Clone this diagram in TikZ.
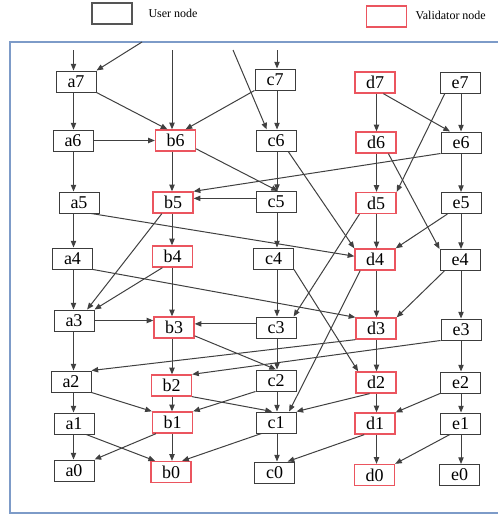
\documentclass[tikz,border=0pt]{standalone}
\usepackage{fontspec}
\setmainfont{Liberation Serif}
\usetikzlibrary{arrows.meta}

\definecolor{framblue}{RGB}{125,155,200}
\definecolor{boxgray}{RGB}{60,60,60}
\definecolor{keygray}{RGB}{85,85,85}
\definecolor{valred}{RGB}{235,85,95}
\definecolor{linegray}{RGB}{64,64,64}

\tikzset{every picture/.style={line width=0.75pt}}
\tikzset{
  usernode/.style={draw=boxgray, fill=white, minimum width=30pt, minimum height=15.75pt, inner sep=0pt, font=\fontsize{13.5}{16}\selectfont},
  valnode/.style={usernode, draw=valred, line width=1pt},
  keytext/.style={anchor=west, inner sep=0.75pt, font=\fontsize{9}{11}\selectfont},
  depline/.style={draw=linegray, -{Triangle[length=5pt,width=4pt]}}
}

\begin{document}
\begin{tikzpicture}[x=0.75pt,y=0.75pt,yscale=-1,xscale=1]
\useasboundingbox (0,0) rectangle (498,514);

%Shape: Frame
\draw [color=framblue, line width=1pt] (510,42) -- (10,42) -- (10,513) -- (510,513) ;

% Legend
\node [usernode, draw=keygray, line width=1pt] (userkey) at (112,13.5) {};
\node [keytext] (usertext) at (147,13) {User node};
\node [valnode] (valkey) at (386.5,16.5) {};
\node [keytext] (valtext) at (414,15) {Validator node};

% Column lines and entry points
\coordinate (colA) at (73.5,0);
\coordinate (colB) at (172,0);
\coordinate (colC) at (277,0);
\coordinate (colD) at (376.5,0);
\coordinate (colE) at (461,0);
\coordinate (ina7) at (73.5,50);
\coordinate (ina7d) at (142,42);
\coordinate (inb6) at (172,50);
\coordinate (inc6) at (233,50);
\coordinate (inc7) at (277,50);

% Text Node: column a
\node [usernode] (a7) at (76,81.5) {a7};
\node [usernode] (a6) at (73,140.5) {a6};
\node [usernode] (a5) at (79,202.5) {a5};
\node [usernode] (a4) at (72.5,258.5) {a4};
\node [usernode] (a3) at (74,320.5) {a3};
\node [usernode] (a2) at (71,381.5) {a2};
\node [usernode] (a1) at (74,423.5) {a1};
\node [usernode] (a0) at (74,470.5) {a0};
% Text Node: column b
\node [valnode] (b6) at (175.5,140.5) {b6};
\node [valnode] (b5) at (173,202.5) {b5};
\node [valnode] (b4) at (172.5,256.5) {b4};
\node [valnode] (b3) at (174,327.5) {b3};
\node [valnode] (b2) at (171.5,385.5) {b2};
\node [valnode] (b1) at (172.5,422.5) {b1};
\node [valnode] (b0) at (171,472) {b0};
% Text Node: column c
\node [usernode] (c7) at (275,79.5) {c7};
\node [usernode] (c6) at (276,140.5) {c6};
\node [usernode] (c5) at (276,202) {c5};
\node [usernode] (c4) at (273.5,258.5) {c4};
\node [usernode] (c3) at (276,327.5) {c3};
\node [usernode] (c2) at (276,380.5) {c2};
\node [usernode] (c1) at (276,422.5) {c1};
\node [usernode] (c0) at (274.5,472.5) {c0};
% Text Node: column d
\node [valnode] (d7) at (375,82.5) {d7};
\node [valnode] (d6) at (376,142.5) {d6};
\node [valnode] (d5) at (376,203) {d5};
\node [valnode] (d4) at (375,259.5) {d4};
\node [valnode] (d3) at (376,328.5) {d3};
\node [valnode] (d2) at (376,382.5) {d2};
\node [valnode] (d1) at (375,423.5) {d1};
\node [valnode] (d0) at (374.5,475) {d0};
% Text Node: column e
\node [usernode] (e7) at (460,82.5) {e7};
\node [usernode] (e6) at (461,142.5) {e6};
\node [usernode] (e5) at (461,203) {e5};
\node [usernode] (e4) at (460,260) {e4};
\node [usernode] (e3) at (461,329.5) {e3};
\node [usernode] (e2) at (460.5,382.5) {e2};
\node [usernode] (e1) at (460.5,423.5) {e1};
\node [usernode] (e0) at (459.5,475) {e0};

%Straight Lines: entries from above
\draw [depline] (ina7) -- (ina7 |- a7.north) ;
\draw [depline] (ina7d) -- (a7.north east) ;
\draw [depline] (inb6) -- (inb6 |- b6.north) ;
\draw [depline] (inc6) -- (c6.130) ;
\draw [depline] (inc7) -- (inc7 |- c7.north) ;

%Straight Lines: column a
\draw [depline] (a7.south -| colA) -- (a6.north -| colA) ;
\draw [depline] (a6.south -| colA) -- (a5.north -| colA) ;
\draw [depline] (a5.south -| colA) -- (a4.north -| colA) ;
\draw [depline] (a4.south -| colA) -- (a3.north -| colA) ;
\draw [depline] (a3.south -| colA) -- (a2.north -| colA) ;
\draw [depline] (a2.south -| colA) -- (a1.north -| colA) ;
\draw [depline] (a1.south -| colA) -- (a0.north -| colA) ;
%Straight Lines: column b
\draw [depline] (b6.south -| colB) -- (b5.north -| colB) ;
\draw [depline] (b5.south -| colB) -- (b4.north -| colB) ;
\draw [depline] (b4.south -| colB) -- (b3.north -| colB) ;
\draw [depline] (b3.south -| colB) -- (b2.north -| colB) ;
\draw [depline] (b2.south -| colB) -- (b1.north -| colB) ;
\draw [depline] (b1.south -| colB) -- (b0.north -| colB) ;
%Straight Lines: column c
\draw [depline] (c7.south -| colC) -- (c6.north -| colC) ;
\draw [depline] (c6.south -| colC) -- (c5.north -| colC) ;
\draw [depline] (c5.south -| colC) -- (c4.north -| colC) ;
\draw [depline] (c4.south -| colC) -- (c3.north -| colC) ;
\draw [depline] (c3.south -| colC) -- (c2.north -| colC) ;
\draw [depline] (c2.south -| colC) -- (c1.north -| colC) ;
\draw [depline] (c1.south -| colC) -- (c0.north -| colC) ;
%Straight Lines: column d
\draw [depline] (d7.south -| colD) -- (d6.north -| colD) ;
\draw [depline] (d6.south -| colD) -- (d5.north -| colD) ;
\draw [depline] (d5.south -| colD) -- (d4.north -| colD) ;
\draw [depline] (d4.south -| colD) -- (d3.north -| colD) ;
\draw [depline] (d3.south -| colD) -- (d2.north -| colD) ;
\draw [depline] (d2.south -| colD) -- (d1.north -| colD) ;
\draw [depline] (d1.south -| colD) -- (d0.north -| colD) ;
%Straight Lines: column e
\draw [depline] (e7.south -| colE) -- (e6.north -| colE) ;
\draw [depline] (e6.south -| colE) -- (e5.north -| colE) ;
\draw [depline] (e5.south -| colE) -- (e4.north -| colE) ;
\draw [depline] (e4.south -| colE) -- (e3.north -| colE) ;
\draw [depline] (e3.south -| colE) -- (e2.north -| colE) ;
\draw [depline] (e2.south -| colE) -- (e1.north -| colE) ;
\draw [depline] (e1.south -| colE) -- (e0.north -| colE) ;

%Straight Lines: from a
\draw [depline] (a7.south east) -- (b6.126) ;
\draw [depline] (a6.east) -- (a6.east -| b6.west) ;
\draw [depline] (a5.-42) -- (d4.171) ;
\draw [depline] (a4.south east) -- (d3.north west) ;
\draw [depline] (a3.east) -- (a3.east -| b3.west) ;
\draw [depline] (a2.south east) -- (b1.north west) ;
\draw [depline] (a1.-42) -- (b0.145) ;
%Straight Lines: from b
\draw [depline] (b6.-22) -- (c5.80) ;
\draw [depline] (b5.225) -- (a3.40) ;
\draw [depline] (b4.228) -- (a3.north east) ;
\draw [depline] (b3.-22) -- (c2.north) ;
\draw [depline] (b2.south east) -- (c1.110) ;
\draw [depline] (b1.214) -- (a0.north east) ;
%Straight Lines: from c
\draw [depline] (c7.south west) -- (b6.48) ;
\draw [depline] (c6.-42) -- (d4.north west) ;
\draw [depline] (c5.170) -- (c5.170 -| b5.east) ;
\draw [depline] (c4.south east) -- (d2.148) ;
\draw [depline] (c3.170) -- (c3.170 -| b3.east) ;
\draw [depline] (c2.south west) -- (b1.north east) ;
\draw [depline] (c1.217) -- (b0.45) ;
%Straight Lines: from d
\draw [depline] (d7.-53) -- (e6.135) ;
\draw [depline] (d6.-42) -- (e4.north west) ;
\draw [depline] (d5.214) -- (c3.32) ;
\draw [depline] (d4.217) -- (c1.40) ;
\draw [depline] (d3.south west) -- (a2.north east) ;
\draw [depline] (d2.240) -- (c1.north east) ;
\draw [depline] (d1.226) -- (c0.40) ;
%Straight Lines: from e
\draw [depline] (e7.216) -- (d5.north east) ;
\draw [depline] (e6.south west) -- (b5.north east) ;
\draw [depline] (e5.219) -- (d4.north east) ;
\draw [depline] (e4.215) -- (d3.north east) ;
\draw [depline] (e3.south west) -- (b2.north east) ;
\draw [depline] (e2.south west) -- (d1.north east) ;
\draw [depline] (e1.226) -- (d0.north east) ;

\end{tikzpicture}
\end{document}
